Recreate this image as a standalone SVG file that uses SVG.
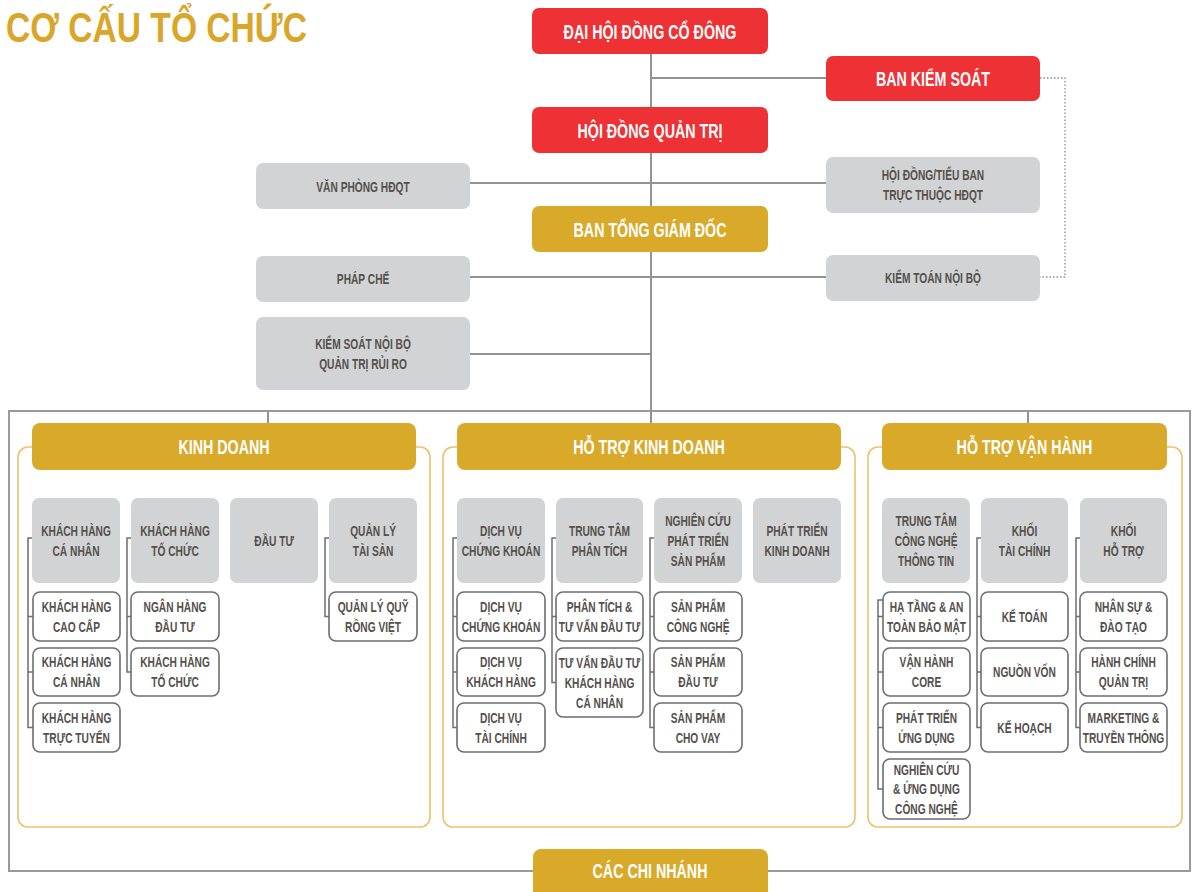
<svg xmlns="http://www.w3.org/2000/svg" width="1192" height="892" viewBox="0 0 1192 892">
<style>
.red{fill:#EE3134}
.gold{fill:#D9AA2A}
.gbox{fill:#D1D3D4}
.cbox{fill:#fff;stroke:#6D6E71;stroke-width:1.6}
.panel{fill:#fff;stroke:#E9C46A;stroke-width:1.6}
.frame{fill:none;stroke:#9A9A9A;stroke-width:2}
.ln{fill:none;stroke:#939393;stroke-width:2}
.br{fill:none;stroke:#6D6E71;stroke-width:1.5}
.dot{fill:none;stroke:#8A8A8A;stroke-width:1.3;stroke-dasharray:1.5 2}
text{font-family:'Liberation Sans',Arial,sans-serif;font-weight:700;text-anchor:middle;transform-box:fill-box;transform-origin:center;transform:scaleX(.68)}
.tw{font-size:21px;fill:#fff}
.tg{font-size:15px;fill:#55504C}
.title{font-size:42px;fill:#DAA62A;transform:scaleX(.8)}
</style>

<text class="title" x="156.5" y="42">CƠ CẤU TỔ CHỨC</text>

<g id="frame">
<rect class="frame" x="9" y="411" width="1181" height="460"/>
</g>

<g id="connectors">
<path class="ln" d="M651,54 V423"/>
<path class="ln" d="M651,78 H826"/>
<path class="ln" d="M470,183 H826"/>
<path class="ln" d="M470,277 H826"/>
<path class="ln" d="M470,354 H651"/>
<path class="ln" d="M268,411 V423 M1028,411 V423"/>
<path class="dot" d="M1040,78 H1065 V277 H1040"/>
</g>

<g id="n-dhdcd"><rect class="red" x="532" y="8" width="236" height="46" rx="7"/><text class="tw" x="650" y="39">ĐẠI HỘI ĐỒNG CỔ ĐÔNG</text></g>
<g id="n-bks"><rect class="red" x="826" y="56" width="214" height="45" rx="7"/><text class="tw" x="933" y="86">BAN KIỂM SOÁT</text></g>
<g id="n-hdqt"><rect class="red" x="532" y="107" width="236" height="46" rx="7"/><text class="tw" x="650" y="138">HỘI ĐỒNG QUẢN TRỊ</text></g>
<g id="n-vp"><rect class="gbox" x="256" y="163" width="214" height="46" rx="7"/><text class="tg" x="363" y="192">VĂN PHÒNG HĐQT</text></g>
<g id="n-hdtb"><rect class="gbox" x="826" y="157" width="214" height="56" rx="7"/><text class="tg" x="933" y="180.5">HỘI ĐỒNG/TIỂU BAN<tspan x="933" dy="20">TRỰC THUỘC HĐQT</tspan></text></g>
<g id="n-btgd"><rect class="gold" x="532" y="206" width="236" height="46" rx="7"/><text class="tw" x="650" y="237">BAN TỔNG GIÁM ĐỐC</text></g>
<g id="n-pc"><rect class="gbox" x="256" y="256" width="214" height="46" rx="7"/><text class="tg" x="363" y="284.5">PHÁP CHẾ</text></g>
<g id="n-ktnb"><rect class="gbox" x="826" y="255" width="214" height="46" rx="7"/><text class="tg" x="933" y="283.5">KIỂM TOÁN NỘI BỘ</text></g>
<g id="n-ksnb"><rect class="gbox" x="256" y="317" width="214" height="73" rx="7"/><text class="tg" x="363" y="349">KIỂM SOÁT NỘI BỘ<tspan x="363" dy="20">QUẢN TRỊ RỦI RO</tspan></text></g>

<g id="sec-kd">
<rect class="panel" x="18" y="447" width="412" height="380" rx="10"/>
<rect class="gold" x="32" y="423" width="384" height="47" rx="8"/>
<text class="tw" x="224" y="454">KINH DOANH</text>
</g>
<g id="sec-htkd">
<rect class="panel" x="443" y="447" width="412" height="380" rx="10"/>
<rect class="gold" x="457" y="423" width="384" height="47" rx="8"/>
<text class="tw" x="649" y="454">HỖ TRỢ KINH DOANH</text>
</g>
<g id="sec-htvh">
<rect class="panel" x="868" y="447" width="314" height="380" rx="10"/>
<rect class="gold" x="882" y="423" width="285" height="47" rx="8"/>
<text class="tw" x="1024.5" y="454">HỖ TRỢ VẬN HÀNH</text>
</g>

<g id="brackets">
<path class="br" d="M32,538 H28 V727.5 H33 M28,616.5 H33 M28,672 H33"/>
<path class="br" d="M131,538 H127 V672 H131 M127,616.5 H131"/>
<path class="br" d="M329,538 H325 V616.5 H329"/>
<path class="br" d="M457,538 H453 V727.5 H457 M453,616.5 H457 M453,672 H457"/>
<path class="br" d="M556,538 H552 V682.5 H556 M552,616.5 H556"/>
<path class="br" d="M654,538 H650 V727.5 H654 M650,616.5 H654 M650,672 H654"/>
<path class="br" d="M883,600 H878 V789 H883 M878,616.5 H883 M878,672 H883 M878,727.5 H883"/>
<path class="br" d="M981,538 H977 V727.5 H981 M977,616.5 H981 M977,672 H981"/>
<path class="br" d="M1080,538 H1076 V727.5 H1080 M1076,616.5 H1080 M1076,672 H1080"/>
</g>

<!-- KINH DOANH -->
<g id="kd-khcn"><rect class="gbox" x="32" y="498" width="88" height="85" rx="7"/><text class="tg" x="76" y="536">KHÁCH HÀNG<tspan x="76" dy="20">CÁ NHÂN</tspan></text></g>
<g id="kd-khcn-1"><rect class="cbox" x="33" y="592" width="87" height="49" rx="7"/><text class="tg" x="76.5" y="612">KHÁCH HÀNG<tspan x="76.5" dy="20">CAO CẤP</tspan></text></g>
<g id="kd-khcn-2"><rect class="cbox" x="33" y="648" width="87" height="48" rx="7"/><text class="tg" x="76.5" y="667.5">KHÁCH HÀNG<tspan x="76.5" dy="20">CÁ NHÂN</tspan></text></g>
<g id="kd-khcn-3"><rect class="cbox" x="33" y="703" width="87" height="49" rx="7"/><text class="tg" x="76.5" y="723">KHÁCH HÀNG<tspan x="76.5" dy="20">TRỰC TUYẾN</tspan></text></g>
<g id="kd-khtc"><rect class="gbox" x="131" y="498" width="88" height="85" rx="7"/><text class="tg" x="175" y="536">KHÁCH HÀNG<tspan x="175" dy="20">TỔ CHỨC</tspan></text></g>
<g id="kd-khtc-1"><rect class="cbox" x="131" y="592" width="88" height="49" rx="7"/><text class="tg" x="175" y="612">NGÂN HÀNG<tspan x="175" dy="20">ĐẦU TƯ</tspan></text></g>
<g id="kd-khtc-2"><rect class="cbox" x="131" y="648" width="88" height="48" rx="7"/><text class="tg" x="175" y="667.5">KHÁCH HÀNG<tspan x="175" dy="20">TỔ CHỨC</tspan></text></g>
<g id="kd-dt"><rect class="gbox" x="230" y="498" width="88" height="85" rx="7"/><text class="tg" x="274" y="546">ĐẦU TƯ</text></g>
<g id="kd-qlts"><rect class="gbox" x="329" y="498" width="88" height="85" rx="7"/><text class="tg" x="373" y="536">QUẢN LÝ<tspan x="373" dy="20">TÀI SẢN</tspan></text></g>
<g id="kd-qlts-1"><rect class="cbox" x="329" y="592" width="88" height="49" rx="7"/><text class="tg" x="373" y="612">QUẢN LÝ QUỸ<tspan x="373" dy="20">RỒNG VIỆT</tspan></text></g>

<!-- HO TRO KINH DOANH -->
<g id="htkd-dvck"><rect class="gbox" x="457" y="498" width="88" height="85" rx="7"/><text class="tg" x="501" y="536">DỊCH VỤ<tspan x="501" dy="20">CHỨNG KHOÁN</tspan></text></g>
<g id="htkd-dvck-1"><rect class="cbox" x="457" y="592" width="88" height="49" rx="7"/><text class="tg" x="501" y="612">DỊCH VỤ<tspan x="501" dy="20">CHỨNG KHOÁN</tspan></text></g>
<g id="htkd-dvck-2"><rect class="cbox" x="457" y="648" width="88" height="48" rx="7"/><text class="tg" x="501" y="667.5">DỊCH VỤ<tspan x="501" dy="20">KHÁCH HÀNG</tspan></text></g>
<g id="htkd-dvck-3"><rect class="cbox" x="457" y="703" width="88" height="49" rx="7"/><text class="tg" x="501" y="723">DỊCH VỤ<tspan x="501" dy="20">TÀI CHÍNH</tspan></text></g>
<g id="htkd-ttpt"><rect class="gbox" x="556" y="498" width="87" height="85" rx="7"/><text class="tg" x="599.5" y="536">TRUNG TÂM<tspan x="599.5" dy="20">PHÂN TÍCH</tspan></text></g>
<g id="htkd-ttpt-1"><rect class="cbox" x="556" y="592" width="87" height="49" rx="7"/><text class="tg" x="599.5" y="612">PHÂN TÍCH &amp;<tspan x="599.5" dy="20">TƯ VẤN ĐẦU TƯ</tspan></text></g>
<g id="htkd-ttpt-2"><rect class="cbox" x="556" y="648" width="87" height="69" rx="7"/><text class="tg" x="599.5" y="668">TƯ VẤN ĐẦU TƯ<tspan x="599.5" dy="20">KHÁCH HÀNG</tspan><tspan x="599.5" dy="20">CÁ NHÂN</tspan></text></g>
<g id="htkd-nc"><rect class="gbox" x="654" y="498" width="88" height="85" rx="7"/><text class="tg" x="698" y="526">NGHIÊN CỨU<tspan x="698" dy="20">PHÁT TRIỂN</tspan><tspan x="698" dy="20">SẢN PHẨM</tspan></text></g>
<g id="htkd-nc-1"><rect class="cbox" x="654" y="592" width="88" height="49" rx="7"/><text class="tg" x="698" y="612">SẢN PHẨM<tspan x="698" dy="20">CÔNG NGHỆ</tspan></text></g>
<g id="htkd-nc-2"><rect class="cbox" x="654" y="648" width="88" height="48" rx="7"/><text class="tg" x="698" y="667.5">SẢN PHẨM<tspan x="698" dy="20">ĐẦU TƯ</tspan></text></g>
<g id="htkd-nc-3"><rect class="cbox" x="654" y="703" width="88" height="49" rx="7"/><text class="tg" x="698" y="723">SẢN PHẨM<tspan x="698" dy="20">CHO VAY</tspan></text></g>
<g id="htkd-ptkd"><rect class="gbox" x="753" y="498" width="88" height="85" rx="7"/><text class="tg" x="797" y="536">PHÁT TRIỂN<tspan x="797" dy="20">KINH DOANH</tspan></text></g>

<!-- HO TRO VAN HANH -->
<g id="htvh-cntt"><rect class="gbox" x="882" y="498" width="88" height="85" rx="7"/><text class="tg" x="926" y="526">TRUNG TÂM<tspan x="926" dy="20">CÔNG NGHỆ</tspan><tspan x="926" dy="20">THÔNG TIN</tspan></text></g>
<g id="htvh-cntt-1"><rect class="cbox" x="883" y="592" width="87" height="49" rx="7"/><text class="tg" x="926.5" y="612">HẠ TẦNG &amp; AN<tspan x="926.5" dy="20">TOÀN BẢO MẬT</tspan></text></g>
<g id="htvh-cntt-2"><rect class="cbox" x="883" y="648" width="87" height="48" rx="7"/><text class="tg" x="926.5" y="667.5">VẬN HÀNH<tspan x="926.5" dy="20">CORE</tspan></text></g>
<g id="htvh-cntt-3"><rect class="cbox" x="883" y="703" width="87" height="49" rx="7"/><text class="tg" x="926.5" y="723">PHÁT TRIỂN<tspan x="926.5" dy="20">ỨNG DỤNG</tspan></text></g>
<g id="htvh-cntt-4"><rect class="cbox" x="883" y="759" width="87" height="60" rx="7"/><text class="tg" x="926.5" y="775">NGHIÊN CỨU<tspan x="926.5" dy="19.5">&amp; ỨNG DỤNG</tspan><tspan x="926.5" dy="19.5">CÔNG NGHỆ</tspan></text></g>
<g id="htvh-ktc"><rect class="gbox" x="981" y="498" width="87" height="85" rx="7"/><text class="tg" x="1024.5" y="536">KHỐI<tspan x="1024.5" dy="20">TÀI CHÍNH</tspan></text></g>
<g id="htvh-ktc-1"><rect class="cbox" x="981" y="592" width="87" height="49" rx="7"/><text class="tg" x="1024.5" y="622">KẾ TOÁN</text></g>
<g id="htvh-ktc-2"><rect class="cbox" x="981" y="648" width="87" height="48" rx="7"/><text class="tg" x="1024.5" y="677.5">NGUỒN VỐN</text></g>
<g id="htvh-ktc-3"><rect class="cbox" x="981" y="703" width="87" height="49" rx="7"/><text class="tg" x="1024.5" y="733">KẾ HOẠCH</text></g>
<g id="htvh-kht"><rect class="gbox" x="1080" y="498" width="87" height="85" rx="7"/><text class="tg" x="1123.5" y="536">KHỐI<tspan x="1123.5" dy="20">HỖ TRỢ</tspan></text></g>
<g id="htvh-kht-1"><rect class="cbox" x="1080" y="592" width="87" height="49" rx="7"/><text class="tg" x="1123.5" y="612">NHÂN SỰ &amp;<tspan x="1123.5" dy="20">ĐÀO TẠO</tspan></text></g>
<g id="htvh-kht-2"><rect class="cbox" x="1080" y="648" width="87" height="48" rx="7"/><text class="tg" x="1123.5" y="667.5">HÀNH CHÍNH<tspan x="1123.5" dy="20">QUẢN TRỊ</tspan></text></g>
<g id="htvh-kht-3"><rect class="cbox" x="1080" y="703" width="87" height="49" rx="7"/><text class="tg" x="1123.5" y="723">MARKETING &amp;<tspan x="1123.5" dy="20">TRUYỀN THÔNG</tspan></text></g>

<g id="n-ccn"><rect class="gold" x="533" y="849" width="235" height="60" rx="8"/><text class="tw" x="650" y="878">CÁC CHI NHÁNH</text></g>
</svg>
